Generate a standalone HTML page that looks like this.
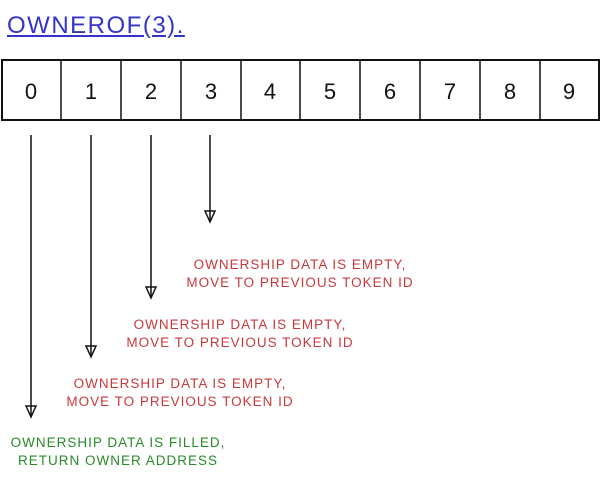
<!DOCTYPE html>
<html><head><style>
body{margin:0;width:600px;height:481px;background:#fff;position:relative;overflow:hidden;font-family:"Liberation Sans",sans-serif}
.t{position:absolute;font-size:13.5px;text-align:center;line-height:18px;letter-spacing:1px;white-space:nowrap}
.r{color:#c8393c}.g{color:#2a8a2a}
</style></head><body>
<div style="position:absolute;left:7px;top:12px;font-size:24px;color:#3434c8;text-decoration:underline;letter-spacing:1.5px">OWNEROF(3).</div>
<svg width="600" height="481" style="position:absolute;left:0;top:0">
<rect x="2" y="60" width="597" height="60" fill="none" stroke="#111" stroke-width="2"/>
<g stroke="#111" stroke-width="1.5">
<line x1="61" y1="60" x2="61" y2="120"/><line x1="121" y1="60" x2="121" y2="120"/><line x1="181" y1="60" x2="181" y2="120"/><line x1="241" y1="60" x2="241" y2="120"/><line x1="300" y1="60" x2="300" y2="120"/><line x1="360" y1="60" x2="360" y2="120"/><line x1="420" y1="60" x2="420" y2="120"/><line x1="480" y1="60" x2="480" y2="120"/><line x1="540" y1="60" x2="540" y2="120"/>
<line x1="31" y1="135" x2="31" y2="416"/><line x1="91" y1="135" x2="91" y2="356"/><line x1="151" y1="135" x2="151" y2="297"/><line x1="210" y1="135" x2="210" y2="221"/>
</g>
<g fill="none" stroke="#111" stroke-width="1.5">
<path d="M26 406 L31 417 L36 406 Z"/><path d="M86 346 L91 357 L96 346 Z"/><path d="M146 287 L151 298 L156 287 Z"/><path d="M205 211 L210 222 L215 211 Z"/>
</g>
<g font-size="22" font-family="Liberation Sans,sans-serif" text-anchor="middle" fill="#111">
<text x="31" y="99">0</text><text x="91" y="99">1</text><text x="151" y="99">2</text><text x="211" y="99">3</text><text x="270" y="99">4</text><text x="330" y="99">5</text><text x="390" y="99">6</text><text x="450" y="99">7</text><text x="510" y="99">8</text><text x="569" y="99">9</text>
</g>
</svg>
<div class="t r" style="left:185px;top:256px;width:230px">OWNERSHIP DATA IS EMPTY,<br>MOVE TO PREVIOUS TOKEN ID</div>
<div class="t r" style="left:125px;top:316px;width:230px">OWNERSHIP DATA IS EMPTY,<br>MOVE TO PREVIOUS TOKEN ID</div>
<div class="t r" style="left:65px;top:375px;width:230px">OWNERSHIP DATA IS EMPTY,<br>MOVE TO PREVIOUS TOKEN ID</div>
<div class="t g" style="left:5px;top:434px;width:226px">OWNERSHIP DATA IS FILLED,<br>RETURN OWNER ADDRESS</div>
</body></html>
